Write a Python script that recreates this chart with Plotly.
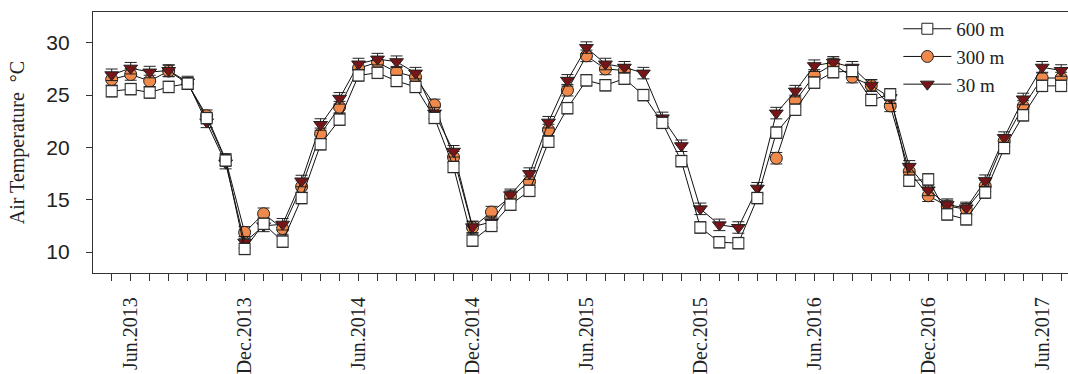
import plotly.graph_objects as go

# Monthly mean air temperature (°C), May 2013 – Jul 2017
months = [
    "May.2013", "Jun.2013", "Jul.2013", "Aug.2013", "Sep.2013", "Oct.2013", "Nov.2013", "Dec.2013",
    "Jan.2014", "Feb.2014", "Mar.2014", "Apr.2014", "May.2014", "Jun.2014", "Jul.2014", "Aug.2014",
    "Sep.2014", "Oct.2014", "Nov.2014", "Dec.2014", "Jan.2015", "Feb.2015", "Mar.2015", "Apr.2015",
    "May.2015", "Jun.2015", "Jul.2015", "Aug.2015", "Sep.2015", "Oct.2015", "Nov.2015", "Dec.2015",
    "Jan.2016", "Feb.2016", "Mar.2016", "Apr.2016", "May.2016", "Jun.2016", "Jul.2016", "Aug.2016",
    "Sep.2016", "Oct.2016", "Nov.2016", "Dec.2016", "Jan.2017", "Feb.2017", "Mar.2017", "Apr.2017",
    "May.2017", "Jun.2017", "Jul.2017",
]

t600 = [25.37, 25.57, 25.25, 25.78, 26.1, 22.8, 18.75, 10.3, 12.7, 11.0,
        15.16, 20.3, 22.66, 26.88, 27.13, 26.35, 25.78, 22.82, 18.13, 11.1,
        12.5, 14.53, 15.85, 20.54, 23.75, 26.41, 25.94, 26.57, 25.0, 22.35,
        18.69, 12.35, 10.94, 10.85, 15.16, 21.41, 23.6, 26.19, 27.19, 27.3,
        24.53, 25.07, 16.82, 16.94, 13.6, 13.13, 15.69, 19.94, 23.07, 25.88,
        25.88]

t300 = [26.5, 26.97, 26.35, 27.3, 26.1, 23.03, 18.85, 11.88, 13.66, 12.25,
        16.25, 21.3, 23.85, 27.57, 28.13, 27.19, 26.72, 24.06, 19.07, 12.35,
        13.82, 15.3, 16.72, 21.66, 25.47, 28.75, 27.5, 27.35, None, None,
        None, None, None, None, None, 18.97, 24.44, 26.88, 27.97, 26.72,
        25.9, 23.97, 17.7, 15.38, 14.4, 14.1, 16.32, 20.63, 23.91, 26.63,
        26.63]

t30 = [26.94, 27.57, 27.2, 27.35, 26.25, 22.44, 18.5, 10.94, 12.5, 12.66,
       16.79, 22.19, 24.69, 27.97, 28.44, 28.19, 27.1, 23.28, 19.63, 12.41,
       12.88, 15.47, 17.5, 22.41, 26.41, 29.54, 27.97, 27.66, 27.1, 22.82,
       20.16, 14.13, 12.6, 12.35, 16.1, 23.28, 25.38, 27.81, 28.13, 27.66,
       25.94, 24.75, 18.19, 15.94, 14.53, 14.22, 16.82, 20.94, 24.63, 27.66,
       27.35]

label_months = ["Jun.2013", "Dec.2013", "Jun.2014", "Dec.2014", "Jun.2015",
                "Dec.2015", "Jun.2016", "Dec.2016", "Jun.2017"]
y_ticks = [10, 15, 20, 25, 30]

x = list(range(len(months)))
tick_text = [m if m in label_months else "" for m in months]

series = [
    # (name, values, symbol, fill, legend rank, size)
    ("300 m", t300, "circle", "#EF894C", 2, 12),
    ("30 m", t30, "triangle-down", "#761418", 3, 12),
    ("600 m", t600, "square", "#FFFFFF", 1, 11),
]

fig = go.Figure()
for name, vals, sym, fill, rank, size in series:
    fig.add_trace(go.Scatter(
        x=x, y=vals, name=name, mode="lines+markers",
        text=months, legendrank=rank,
        line=dict(color="#111111", width=1),
        marker=dict(symbol=sym, size=size, color=fill,
                    line=dict(color="#222222", width=1)),
        error_y=dict(type="constant", value=0.55, color="#222222",
                     thickness=1, width=6),
        connectgaps=False,
    ))

fig.update_layout(
    width=1068, height=374,
    margin=dict(l=93, r=0, t=12, b=96),
    paper_bgcolor="white", plot_bgcolor="white",
    showlegend=True,
    legend=dict(x=0.826, y=1.008, xanchor="left", yanchor="top",
                bgcolor="rgba(0,0,0,0)", itemwidth=48,
                font=dict(family="Liberation Serif", size=19, color="#222222"),
                tracegroupgap=0),
)

fig.update_xaxes(
    range=[-0.985, 50.36],
    tickmode="array", tickvals=x, ticktext=tick_text,
    tickangle=-90, ticks="outside", ticklen=7, tickwidth=1, tickcolor="#333333",
    ticklabelstandoff=8,
    tickfont=dict(family="Liberation Serif", size=20, color="#222222"),
    showline=True, linecolor="#333333", linewidth=1.3, mirror=True,
    showgrid=False, zeroline=False,
)

fig.update_yaxes(
    range=[8.0, 32.94],
    tickmode="array", tickvals=y_ticks,
    ticks="outside", ticklen=6, tickwidth=1, tickcolor="#333333",
    ticklabelstandoff=12,
    tickfont=dict(family="Liberation Sans", size=21, color="#222222"),
    title=dict(text="Air Temperature  \u00b0C",
               font=dict(family="Liberation Serif", size=20, color="#222222"),
               standoff=16),
    showline=True, linecolor="#333333", linewidth=1.3, mirror=False,
    showgrid=False, zeroline=False,
)

fig.write_html("out.html")
